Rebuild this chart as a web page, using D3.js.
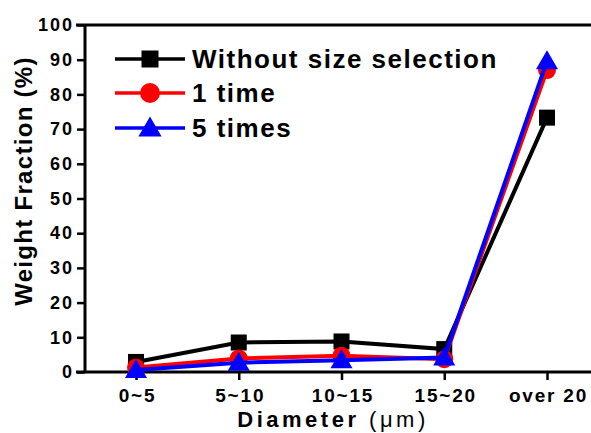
<!DOCTYPE html>
<html>
<head>
<meta charset="utf-8">
<script src="https://cdn.jsdelivr.net/npm/d3@7"></script>
<style>
  body { margin: 0; background: #fff; }
  text { font-family: "Liberation Sans", Arial, sans-serif; font-weight: bold; }
</style>
</head>
<body>
<script>
var categories = ["0~5", "5~10", "10~15", "15~20", "over 20"];
var withoutSel = [2.9, 8.5, 8.8, 6.6, 73.3];
var oneTime = [1.3, 3.9, 4.7, 3.7, 87.0];
var fiveTimes = [0.6, 2.7, 3.4, 4.2, 89.6];
var yTicks = [0, 10, 20, 30, 40, 50, 60, 70, 80, 90, 100];

var series = [
    {name: "Without size selection", values: withoutSel, color: "#000000", shape: "square"},
    {name: "1 time", values: oneTime, color: "#ff0000", shape: "circle"},
    {name: "5 times", values: fiveTimes, color: "#0000ff", shape: "triangle"}
];

var width = 591, height = 433;
var plotLeft = 85, plotTop = 25, plotBottom = 372;
var markSize = {square: 16, circle: 18, triangle: 19};
var legSize = {square: 17, circle: 20, triangle: 20};

var svg = d3.select("body").append("svg")
    .attr("width", width)
    .attr("height", height);

var x = d3.scalePoint()
    .domain(categories)
    .range([136, 547]);

var y = d3.scaleLinear()
    .domain([0, 100])
    .range([plotBottom, plotTop]);

// axes
var yAxis = svg.append("g")
    .attr("transform", "translate(" + plotLeft + ",0)")
    .call(d3.axisLeft(y).tickValues(yTicks).tickSize(8).tickSizeOuter(0).tickPadding(3));
yAxis.select(".domain").remove();
yAxis.selectAll("line").attr("stroke-width", 2.5);
yAxis.selectAll("text")
    .attr("font-size", 18)
    .attr("letter-spacing", 2)
    .attr("fill", "#000");

var xAxis = svg.append("g")
    .attr("transform", "translate(0," + plotBottom + ")")
    .call(d3.axisBottom(x).tickSize(8).tickSizeOuter(0).tickPadding(9));
xAxis.select(".domain").remove();
xAxis.selectAll("line").attr("stroke-width", 2.5);
xAxis.selectAll("text")
    .attr("font-size", 19)
    .attr("letter-spacing", 1.8)
    .attr("dx", 1)
    .attr("fill", "#000");

svg.append("line")
    .attr("x1", plotLeft).attr("x2", plotLeft)
    .attr("y1", plotTop - 1).attr("y2", plotBottom + 1)
    .attr("stroke", "#000").attr("stroke-width", 3);
svg.append("line")
    .attr("x1", plotLeft - 9).attr("x2", width)
    .attr("y1", plotBottom).attr("y2", plotBottom)
    .attr("stroke", "#000").attr("stroke-width", 3);
svg.append("line")
    .attr("x1", plotLeft - 9).attr("x2", width)
    .attr("y1", plotTop).attr("y2", plotTop)
    .attr("stroke", "#000").attr("stroke-width", 3);

// axis titles
svg.append("text")
    .attr("transform", "translate(32,181) rotate(-90)")
    .attr("text-anchor", "middle")
    .style("font-size", "24px")
    .style("letter-spacing", "1.3px")
    .text("Weight Fraction (%)");

var xt = svg.append("text")
    .attr("x", 333).attr("y", 427)
    .attr("text-anchor", "middle")
    .style("font-size", "22px")
    .style("letter-spacing", "3.5px");
xt.append("tspan").text("Diameter ");
xt.append("tspan").style("font-weight", "normal").text("(\u03bcm)");

function drawMarker(g, shape, color, cx, cy, s) {
    if (shape === "square") {
        g.append("rect")
            .attr("x", cx - s / 2).attr("y", cy - s / 2)
            .attr("width", s).attr("height", s)
            .attr("fill", color);
    } else if (shape === "circle") {
        g.append("circle")
            .attr("cx", cx).attr("cy", cy).attr("r", s / 2)
            .attr("fill", color);
    } else {
        var h = s * 0.95;
        g.append("path")
            .attr("d", "M" + cx + "," + (cy - h * 0.6) +
                "L" + (cx + s * 0.58) + "," + (cy + h * 0.45) +
                "L" + (cx - s * 0.58) + "," + (cy + h * 0.45) + "Z")
            .attr("fill", color);
    }
}

var line = d3.line()
    .x(function(d, i) { return x(categories[i]); })
    .y(function(d) { return y(d); });

series.forEach(function(s) {
    var g = svg.append("g");
    g.append("path")
        .datum(s.values)
        .attr("d", line)
        .attr("fill", "none")
        .attr("stroke", s.color)
        .attr("stroke-width", 4);
    s.values.forEach(function(v, i) {
        drawMarker(g, s.shape, s.color, x(categories[i]), y(v), markSize[s.shape]);
    });
});

// legend
var legY = [59, 93, 128];
series.forEach(function(s, i) {
    var g = svg.append("g");
    g.append("line")
        .attr("x1", 115).attr("x2", 185)
        .attr("y1", legY[i]).attr("y2", legY[i])
        .attr("stroke", s.color).attr("stroke-width", 3.5);
    drawMarker(g, s.shape, s.color, 150, legY[i], legSize[s.shape]);
    g.append("text")
        .attr("x", 192).attr("y", legY[i] + 9)
        .style("font-size", "26px")
        .style("letter-spacing", "1.5px")
        .text(s.name);
});
</script>
</body>
</html>
